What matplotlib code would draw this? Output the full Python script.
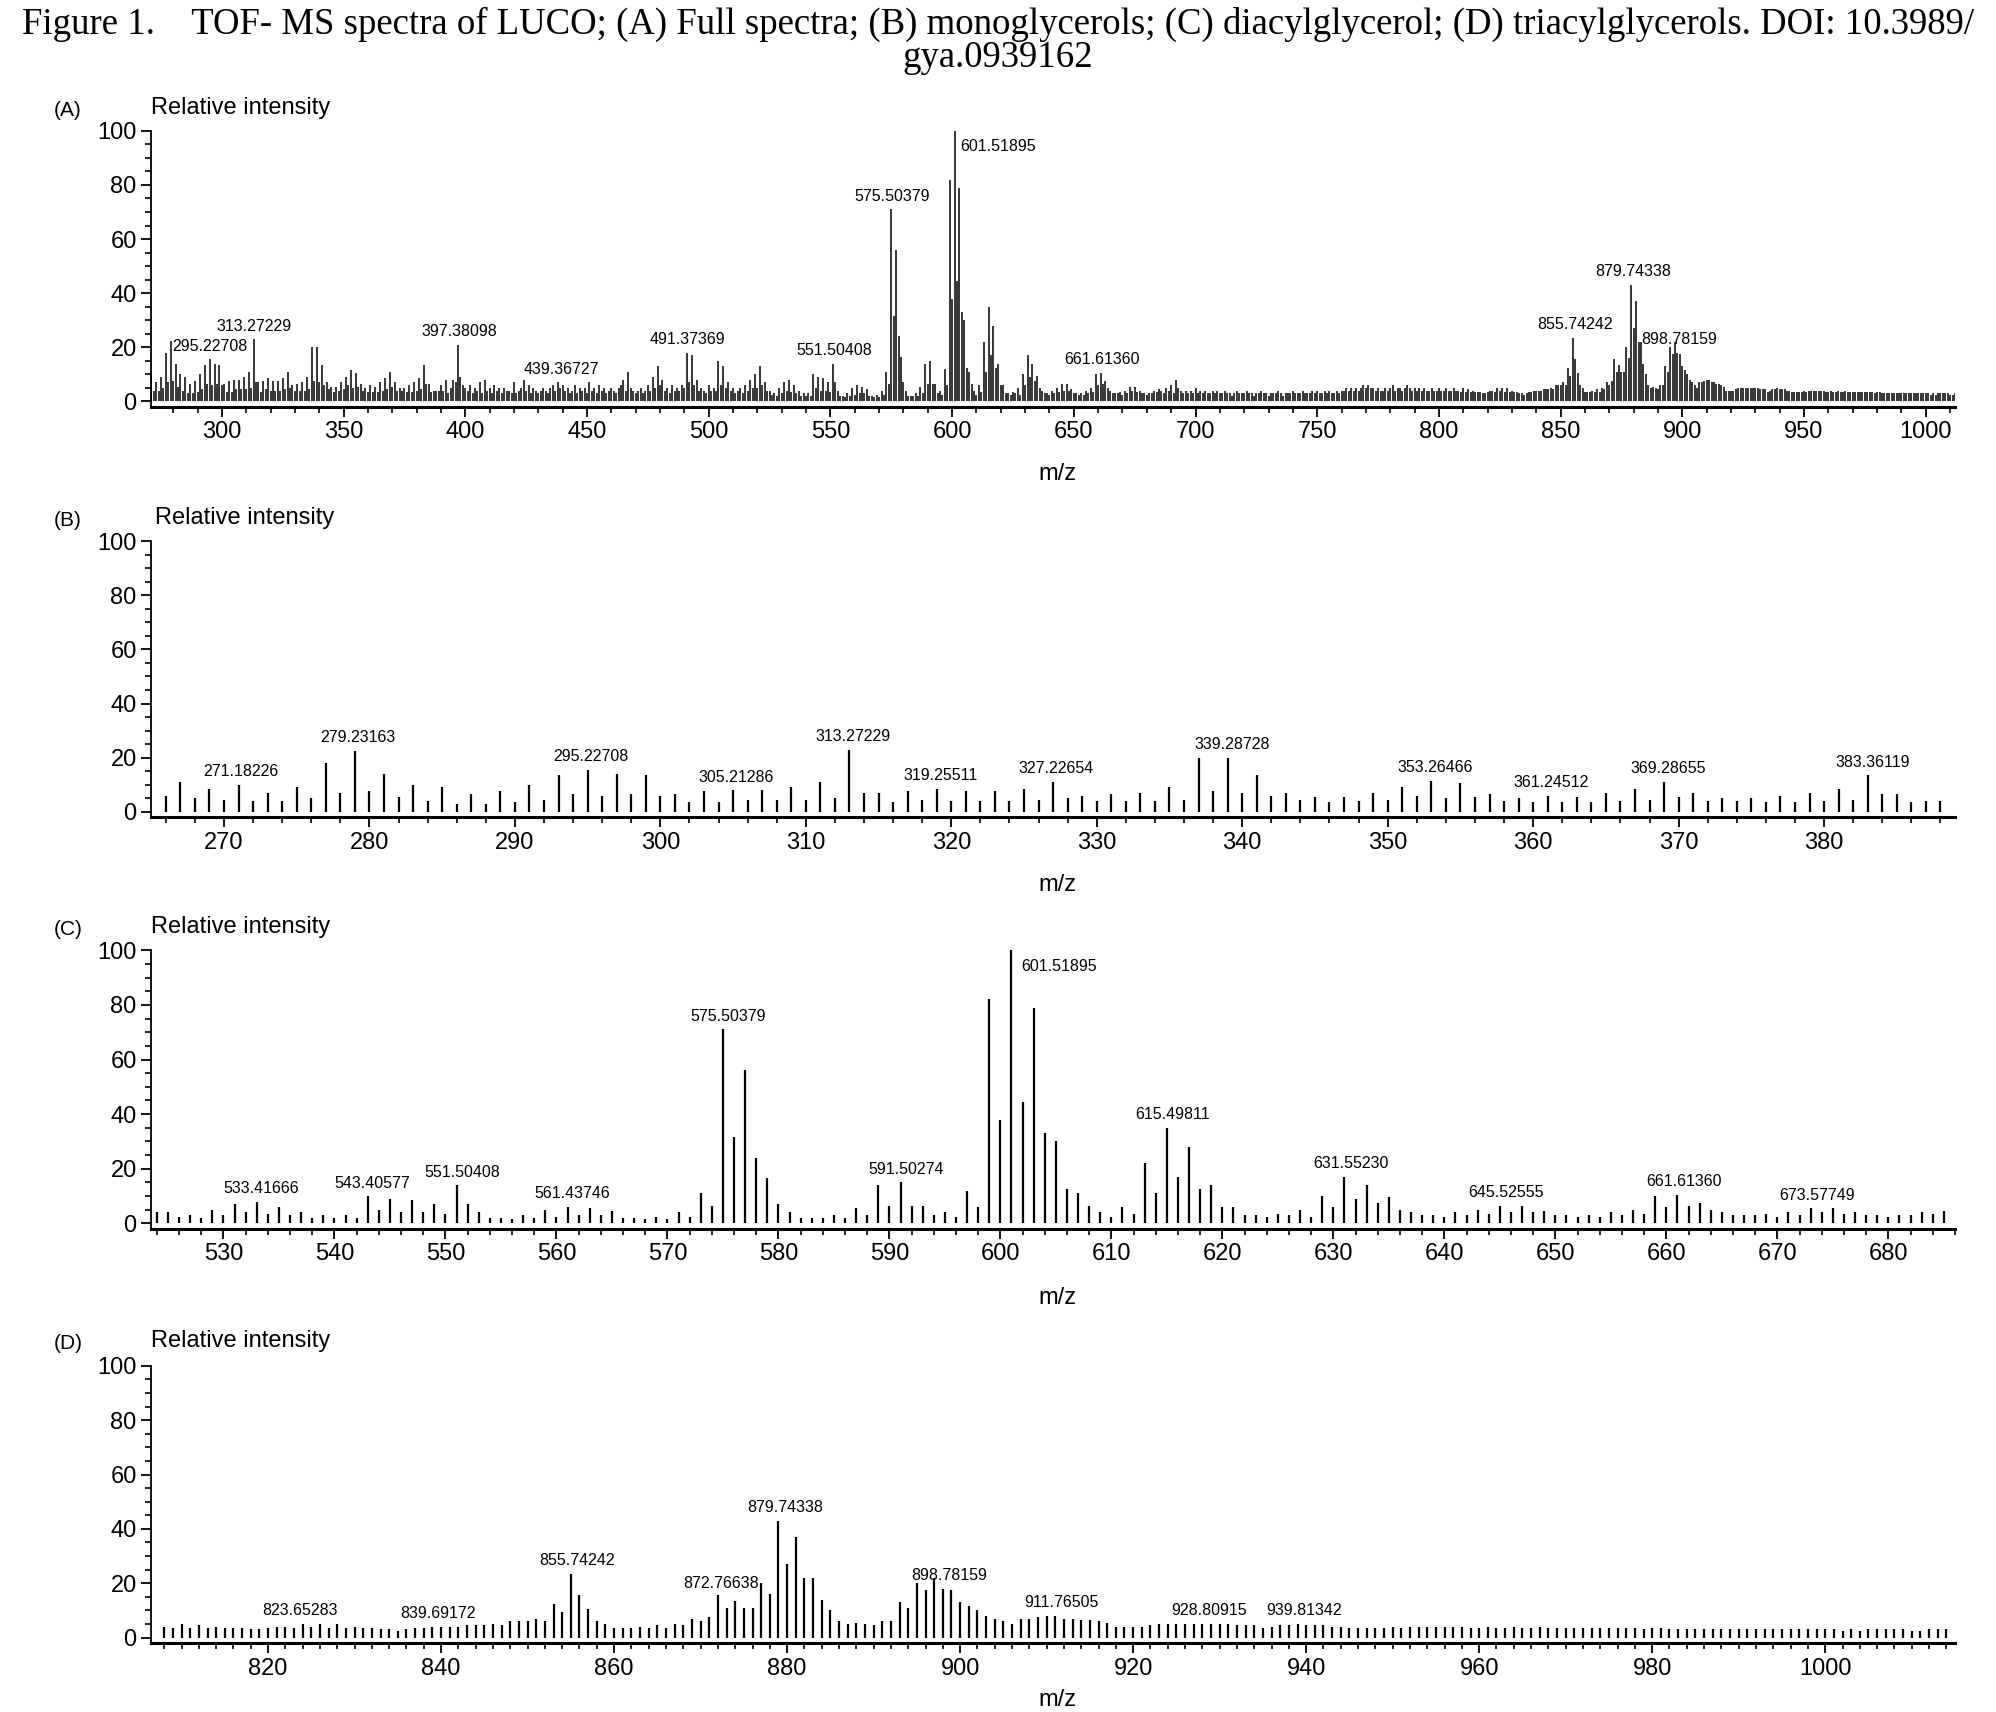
import numpy as np
import matplotlib
matplotlib.use("Agg")
import matplotlib.pyplot as plt
from matplotlib.ticker import MultipleLocator

plt.rcParams['font.family'] = ['Liberation Sans', 'DejaVu Sans']

# ---------------- data ----------------
B_start = 266
B_vals = [6, 11, 5, 8.5, 4.5, 10, 4, 7, 4, 9, 5, 18, 7, 22.5, 7.5, 14, 5.5, 10, 4, 9,
          3, 6.5, 3, 7.5, 3.5, 10, 4.5, 13.5, 6.5, 15.5, 6, 14, 6.5, 13.5, 6, 6.5, 3.5, 7.5, 3.5, 8,
          4.5, 8, 4.5, 9, 4.5, 11, 5, 23, 7, 7, 3.5, 7.5, 4.5, 8.5, 4, 7.5, 4, 7.5, 4, 8.5,
          4.5, 11, 5, 6, 4, 6.5, 4, 7, 4, 9, 4.5, 20, 7.5, 20, 7, 13.5, 6, 7, 4.5, 5.5,
          3.5, 5.5, 4, 7, 4.5, 9, 6, 11.5, 5, 10.5, 5.5, 6.5, 4, 5, 3.5, 6, 3.5, 5.5, 3.5, 7,
          4, 8.5, 4.5, 11, 5.5, 7, 4, 5, 4, 5, 3.5, 6, 3.5, 7, 4, 8.5, 4.5, 13.5, 6.5, 6.5,
          3.5, 4, 4]

A1_start = 389
A1_vals = [4, 6, 4, 8, 3, 5, 8, 7, 21, 9, 6,
           5, 4, 6, 3, 5, 4, 7, 3, 8, 4, 5,
           3, 6, 4, 5, 3, 5, 4, 4, 3, 7, 3,
           4, 5, 8, 4, 6, 3, 5, 4, 3, 4, 5,
           4, 3, 5, 6, 4, 7, 5, 6, 4, 5, 3,
           4, 6, 3, 5, 4, 5, 3, 7, 4, 5, 3,
           6, 4, 5, 3, 4, 5, 4, 3, 5, 6, 8,
           4, 11, 5, 4, 3, 4, 5, 3, 4, 6, 4,
           9, 5, 13, 6, 8, 4, 5, 3, 6, 4, 5,
           4, 6, 5, 18, 7, 17, 6, 8, 4, 5, 4,
           3, 6, 4, 5, 4, 15, 6, 13, 5, 7, 4,
           5, 3, 4, 5, 3, 6, 4, 8, 5, 10, 5,
           13, 6, 7]

C_start = 524
C_vals = [4, 4, 2.5, 3, 2, 5, 3, 7, 4, 8, 3.5, 6, 3, 4, 2, 3, 2, 3, 2, 10,
          5, 9, 4, 8.5, 4, 7, 3.5, 14, 7, 4, 2, 2, 1.5, 3, 2, 5, 2.5, 6, 3, 5.5,
          3, 4.5, 2, 2, 1.5, 2.5, 1.5, 4, 2.5, 11, 6.5, 71, 31.5, 56, 24, 16.5, 7, 4, 2, 2,
          2, 3, 2, 5.5, 3, 14, 6.5, 15, 6.5, 6.5, 3, 4, 2.5, 12, 6, 82, 38, 100, 44.5, 79,
          33, 30, 12.5, 11, 6.5, 4, 2.5, 6, 3.5, 22, 11, 35, 17, 28, 12.5, 14, 6, 6, 3, 3,
          2.5, 3.5, 3, 5, 2.5, 10, 6, 17, 9, 14, 7.5, 9.5, 5, 4, 3, 3, 2.5, 4, 3, 5,
          3.5, 6.5, 4, 6.5, 4, 4.5, 3, 3, 2.5, 3, 2.5, 4, 3, 5, 3.5, 10, 6, 10.5, 6.5, 7.5,
          5, 4, 3, 3, 3, 3.5, 2.5, 4, 3, 5.5, 4, 5.5, 3.5, 4, 3, 3, 2.5, 3, 3, 4,
          3.5, 4.5]

A2_start = 686
A2_vals = [4, 3, 5, 4, 6, 3, 8, 5, 4, 3, 4,
           3, 4, 3, 5, 3, 4, 3, 4, 3, 3, 4,
           3, 4, 3, 3, 4, 3, 3, 2, 3, 4, 3,
           3, 3, 4, 3, 3, 2, 3, 3, 4, 3, 3,
           2, 3, 3, 3, 4, 3, 2, 3, 3, 3, 4,
           3, 3, 3, 4, 3, 3, 3, 4, 3, 4, 3,
           3, 4, 3, 4, 3, 3, 4, 3, 4, 4, 5,
           4, 5, 4, 5, 4, 5, 6, 5, 6, 5, 5,
           4, 5, 4, 4, 5, 4, 5, 6, 4, 5, 5,
           4, 5, 6, 5, 4, 5, 4, 5, 4, 5, 4,
           4, 5, 4, 4, 5, 4, 4, 5, 4, 4, 5,
           4]

D_start = 808
D_vals = [4, 3.5, 5, 3.5, 4.5, 3.5, 4, 3.5, 3.5, 3.5,
          3, 3, 3.5, 4, 4, 3.5, 5, 4, 5, 3.5,
          5, 3.5, 4, 3.5, 3.5, 3, 3, 2.5, 3, 3.5,
          3.5, 4, 4, 4, 4, 4.5, 4.5, 4.5, 5, 4.5,
          6, 6, 6, 7, 6, 12.5, 9.5, 23.5, 15.5, 10.5,
          6, 5, 3.5, 3.5, 3.5, 4, 3.5, 4.5, 3.5, 5,
          4.5, 7, 6, 7.5, 15.5, 11, 13.5, 11, 11, 20,
          16, 43, 27, 37, 22, 22, 14, 10, 6, 5,
          5.5, 5, 4.5, 6, 6, 13, 11, 20, 17.5, 22,
          18, 17.5, 13, 11.5, 10, 8, 7, 6, 5, 7,
          7, 7.5, 8, 8, 7, 7, 6.5, 6.5, 6, 5.5,
          4, 4, 4, 4, 4.5, 5, 5, 5, 5, 5,
          5, 5, 5, 5, 4.5, 4.5, 4.5, 3.5, 4, 4.5,
          4.5, 5, 4.5, 4.5, 4.5, 4, 4, 3.5, 3.5, 3.5,
          3.5, 3.5, 4, 3.5, 4, 4, 4, 4, 4, 4,
          4, 3.5, 3.5, 4, 3.5, 3.5, 4, 3.5, 3.5, 4,
          3.5, 3.5, 3.5, 3.5, 3.5, 3.5, 3.5, 3.5, 3.5, 3.5,
          3.5, 3, 3.5, 3.5, 3, 3, 3, 3, 3, 3,
          3, 3, 3, 3, 3, 3, 3, 3, 3, 3,
          3, 3, 3, 3, 2.5, 3, 2.5, 3, 3, 3,
          3, 3, 2.5, 2.5, 3, 3, 3]

A_labels = ["295.22708", "313.27229", "397.38098", "439.36727", "491.37369", "551.50408",
            "575.50379", "601.51895", "661.61360", "855.74242", "879.74338", "898.78159"]
B_labels = ["271.18226", "279.23163", "295.22708", "305.21286", "313.27229", "319.25511",
            "327.22654", "339.28728", "353.26466", "361.24512", "369.28655", "383.36119"]
C_labels = ["533.41666", "543.40577", "551.50408", "561.43746", "575.50379", "591.50274",
            "601.51895", "615.49811", "631.55230", "645.52555", "661.61360", "673.57749"]
D_labels = ["823.65283", "839.69172", "855.74242", "872.76638", "879.74338", "898.78159",
            "911.76505", "928.80915", "939.81342"]

def series(start, vals):
    return np.arange(start, start + len(vals)), np.array(vals, dtype=float)

Bx, By = series(B_start, B_vals)
A1x, A1y = series(A1_start, A1_vals)
Cx, Cy = series(C_start, C_vals)
A2x, A2y = series(A2_start, A2_vals)
Dx, Dy = series(D_start, D_vals)
Ax = np.concatenate([Bx, A1x, Cx, A2x, Dx])
Ay = np.concatenate([By, A1y, Cy, A2y, Dy])

# ---------------- figure ----------------
W, H = 1557.0, 1335.0
fig = plt.figure(figsize=(19.96, 17.12), dpi=100)

fig.text(0.5, 1 - 32 / H,
         "Figure 1.    TOF- MS spectra of LUCO; (A) Full spectra; (B) monoglycerols; "
         "(C) diacylglycerol; (D) triacylglycerols. DOI: 10.3989/\ngya.0939162",
         ha='center', va='center', family=['Liberation Serif', 'DejaVu Serif'],
         fontsize=26.5, linespacing=0.95)

panels = [
    dict(tag="(A)", p100=102, p0=313, x=Ax, y=Ay, xlim=(271, 1012), major=50, minor=10,
         labels=A_labels, left_lab=[], right_lab=["601.51895"], lw=1.1, mz=370, ri_x=118, tag_y=86),
    dict(tag="(B)", p100=422, p0=633, x=Bx, y=By, xlim=(265, 389), major=10, minor=2,
         labels=B_labels, left_lab=[], right_lab=[], lw=1.6, mz=690, ri_x=121, tag_y=406),
    dict(tag="(C)", p100=741, p0=954, x=Cx, y=Cy, xlim=(523.5, 686), major=10, minor=2,
         labels=C_labels, left_lab=[], right_lab=["601.51895"], lw=1.6, mz=1012, ri_x=118, tag_y=725),
    dict(tag="(D)", p100=1065, p0=1277, x=Dx, y=Dy, xlim=(806.5, 1015), major=20, minor=2,
         labels=D_labels, left_lab=["872.76638"], right_lab=[], lw=1.6, mz=1326, ri_x=118, tag_y=1048),
]

left = 118 / W
right = 1525 / W
for p in panels:
    unit = (p['p0'] - p['p100']) / 100.0
    bottom_px = p['p0'] + 2 * unit
    ax = fig.add_axes([left, 1 - bottom_px / H, right - left, (bottom_px - p['p100']) / H])
    ax.vlines(p['x'], 0, p['y'], color='black', lw=p['lw'])
    ax.set_xlim(*p['xlim'])
    ax.set_ylim(-2, 100)
    ax.spines['top'].set_visible(False)
    ax.spines['right'].set_visible(False)
    ax.spines['left'].set_linewidth(1.3)
    ax.spines['bottom'].set_linewidth(2.2)
    ax.spines['left'].set_bounds(-2, 100)
    ax.yaxis.set_major_locator(MultipleLocator(20))
    ax.yaxis.set_minor_locator(MultipleLocator(5))
    ax.xaxis.set_major_locator(MultipleLocator(p['major']))
    ax.xaxis.set_minor_locator(MultipleLocator(p['minor']))
    ax.tick_params(which='major', length=7, width=1.3, labelsize=17, direction='out')
    ax.tick_params(which='minor', length=4, width=1.2, direction='out')
    for lab in p['labels']:
        lx = float(lab)
        near = np.abs(p['x'] - lx) <= 1.5
        h = p['y'][near].max()
        if lab in p['right_lab']:
            ax.annotate(lab, (lx, h), xytext=(3, -6), textcoords='offset points',
                        ha='left', va='top', fontsize=11.5, annotation_clip=False)
        elif lab in p['left_lab']:
            ax.annotate(lab, (lx + 4.5, 20), xytext=(-3, 0), textcoords='offset points',
                        ha='right', va='center', fontsize=11.5)
        else:
            ax.annotate(lab, (lx, h), xytext=(0, 4), textcoords='offset points',
                        ha='center', va='bottom', fontsize=11.5)
    fig.text(42 / W, 1 - p['tag_y'] / H, p['tag'], fontsize=15, ha='left', va='center')
    fig.text(p['ri_x'] / W, 1 - (p['tag_y'] - 2) / H, "Relative intensity", fontsize=17,
             ha='left', va='center')
    fig.text(825 / W, 1 - p['mz'] / H, "m/z", fontsize=17, ha='center', va='center')

fig.savefig("out.png", dpi=100)
